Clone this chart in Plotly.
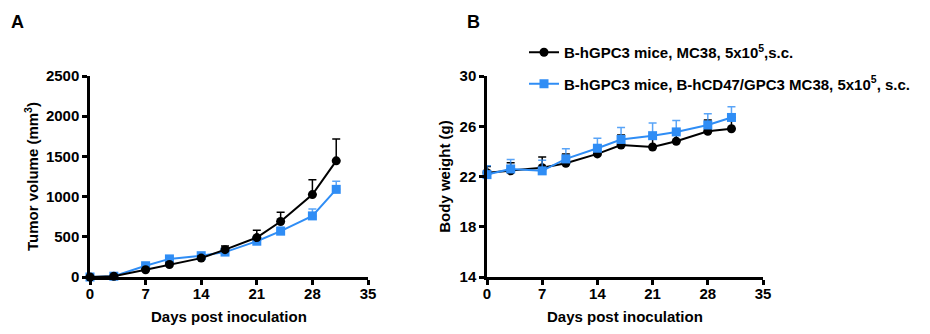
import plotly.graph_objects as go

days = [0, 3, 7, 10, 14, 17, 21, 24, 28, 31]

# Panel A: tumor volume (mm3)
tumor_mc38 = [0, 10, 90, 155, 235, 340, 490, 690, 1025, 1445]
tumor_mc38_err = [0, 5, 15, 20, 25, 45, 90, 115, 185, 270]
tumor_cd47 = [0, 10, 140, 225, 265, 310, 445, 570, 760, 1090]
tumor_cd47_err = [0, 5, 15, 20, 20, 25, 30, 50, 85, 100]

# Panel B: body weight (g)
bw_mc38 = [22.3, 22.45, 22.7, 23.05, 23.8, 24.5, 24.35, 24.8, 25.6, 25.8]
bw_mc38_err = [0.5, 0.65, 0.85, 0.75, 0.65, 0.8, 0.85, 0.95, 0.9, 0.9]
bw_cd47 = [22.15, 22.6, 22.45, 23.4, 24.25, 24.95, 25.25, 25.55, 26.1, 26.7]
bw_cd47_err = [0.7, 0.75, 0.85, 0.8, 0.8, 0.95, 1.0, 0.9, 0.9, 0.85]

x_ticks = [0, 7, 14, 21, 28, 35]
tumor_ticks = [0, 500, 1000, 1500, 2000, 2500]
bw_ticks = [14, 18, 22, 26, 30]

x_title = "Days post inoculation"
name_mc38 = "B-hGPC3 mice, MC38, 5x10<sup>5</sup>,s.c."
name_cd47 = "B-hGPC3 mice, B-hCD47/GPC3 MC38, 5x10<sup>5</sup>, s.c."

BLACK = "#000000"
BLUE = "#2f8df5"
FONT = "Liberation Sans"

fig = go.Figure()

def add(x, y, err, color, errcolor, symbol, xa, ya, name, show, group):
    fig.add_trace(go.Scatter(
        x=x, y=y, mode="lines+markers", name=name, showlegend=show,
        legendgroup=group,
        xaxis=xa, yaxis=ya, cliponaxis=False,
        line=dict(color=color, width=2),
        marker=dict(color=color, size=9, symbol=symbol),
        error_y=dict(type="data", symmetric=False, array=err,
                     arrayminus=[0] * len(err), color=errcolor,
                     thickness=1.5, width=4),
    ))

add(days, tumor_cd47, tumor_cd47_err, BLUE, "rgba(47,141,245,0.8)", "square", "x", "y", name_cd47, False, "g2")
add(days, tumor_mc38, tumor_mc38_err, BLACK, BLACK, "circle", "x", "y", name_mc38, False, "g1")
add(days, bw_mc38, bw_mc38_err, BLACK, BLACK, "circle", "x2", "y2", name_mc38, True, "g1")
add(days, bw_cd47, bw_cd47_err, BLUE, "rgba(47,141,245,0.8)", "square", "x2", "y2", name_cd47, True, "g2")

ydom = [1 - 277 / 334, 1 - 76 / 334]
axis_common = dict(showline=True, linecolor="black", linewidth=2.5,
                   ticks="outside", ticklen=5, tickwidth=2.5, tickcolor="black",
                   showgrid=False, zeroline=False, automargin=False,
                   tickfont=dict(family=FONT, size=15, color="black", weight="bold"))
title_font = dict(family=FONT, size=15, color="black", weight="bold")

fig.update_layout(
    width=930, height=334,
    margin=dict(l=0, r=0, t=0, b=0, autoexpand=False),
    paper_bgcolor="white", plot_bgcolor="white",
    font=dict(family=FONT, size=15, color="black", weight="bold"),
    xaxis=dict(domain=[90 / 930, 368 / 930], range=[0, 35], tickvals=x_ticks,
               anchor="y", ticklabelstandoff=-4, **axis_common),
    yaxis=dict(domain=ydom, range=[0, 2500], tickvals=tumor_ticks, anchor="x",
               title=dict(text="Tumor volume (mm<sup>3</sup>)", font=title_font, standoff=4),
               **axis_common),
    xaxis2=dict(domain=[487 / 930, 763 / 930], range=[0, 35], tickvals=x_ticks,
                anchor="y2", ticklabelstandoff=-4, **axis_common),
    yaxis2=dict(domain=ydom, range=[14, 30], tickvals=bw_ticks, anchor="x2",
                title=dict(text="Body weight (g)", font=title_font, standoff=6),
                **axis_common),
    legend=dict(x=524 / 930, y=1 - 36 / 334, xanchor="left", yanchor="top",
                traceorder="grouped", tracegroupgap=9,
                font=dict(family=FONT, size=15, color="black", weight="bold"),
                bgcolor="rgba(0,0,0,0)", itemwidth=30),
    annotations=[
        dict(text="A", x=17 / 930, y=1 - 22 / 334, xref="paper", yref="paper",
             showarrow=False, xanchor="center", yanchor="middle",
             font=dict(family=FONT, size=18, color="black", weight="bold")),
        dict(text="B", x=474 / 930, y=1 - 22 / 334, xref="paper", yref="paper",
             showarrow=False, xanchor="center", yanchor="middle",
             font=dict(family=FONT, size=18, color="black", weight="bold")),
        dict(text=x_title, x=0.5, y=1 - 316 / 334, xref="x domain", yref="paper",
             showarrow=False, xanchor="center", yanchor="middle", font=title_font),
        dict(text=x_title, x=0.5, y=1 - 316 / 334, xref="x2 domain", yref="paper",
             showarrow=False, xanchor="center", yanchor="middle", font=title_font),
    ],
)

fig.write_html("out.html")
